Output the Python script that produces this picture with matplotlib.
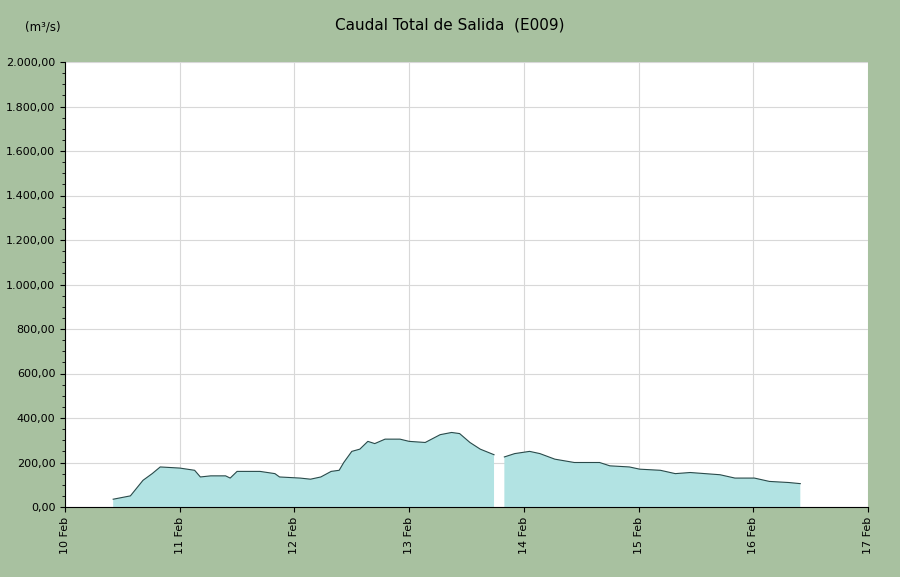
import numpy as np
import matplotlib.pyplot as plt
from matplotlib.ticker import FuncFormatter, MultipleLocator

# pixel-read positions (day of Feb, fractional) and flow (m3/s); NaN marks the gap
days = [10.42, 10.57, 10.68, 10.76, 10.83, 11.0, 11.13, 11.18, 11.27, 11.4, 11.44, 11.5,
        11.7, 11.83, 11.87, 12.05, 12.14, 12.23, 12.32, 12.39, 12.43, 12.5, 12.57,
        12.64, 12.7, 12.79, 12.92, 13.0, 13.14, 13.27, 13.37, 13.44, 13.53, 13.62,
        13.74, 13.75, 13.83, 13.92, 14.05, 14.14, 14.27, 14.44, 14.66, 14.75, 14.92,
        15.01, 15.19, 15.32, 15.45, 15.71, 15.84, 16.01, 16.14, 16.31, 16.41]
flow = [35, 50, 120, 150, 180, 175, 165, 135, 140, 140, 130, 160,
        160, 150, 135, 130, 125, 135, 160, 165, 200, 250, 260,
        295, 285, 305, 305, 295, 290, 325, 335, 330, 290, 260,
        235, np.nan, 225, 240, 250, 240, 215, 200, 200, 185, 180,
        170, 165, 150, 155, 145, 130, 130, 115, 110, 105]

tick_days = list(range(10, 18))
tick_labels = [f'{d} Feb' for d in tick_days]

bg = '#a8c1a0'
fig = plt.figure(figsize=(9, 5.77), dpi=100, facecolor=bg)
ax = fig.add_axes([65 / 900, 70 / 577, 803 / 900, 445 / 577])
ax.set_facecolor('white')

x = np.array(days)
y = np.array(flow, dtype=float)
ax.fill_between(x, 0, y, where=~np.isnan(y), color='#b2e3e3', linewidth=0)
ax.plot(x, y, color='#2a4a4a', linewidth=0.8)

ax.set_xlim(10, 17)
ax.set_ylim(0, 2000)
ax.set_xticks(tick_days)
ax.set_xticklabels(tick_labels, rotation=90, fontsize=8)
ax.yaxis.set_major_locator(MultipleLocator(200))
ax.yaxis.set_minor_locator(MultipleLocator(50))
ax.yaxis.set_major_formatter(FuncFormatter(
    lambda v, p: f'{v:,.2f}'.replace(',', 'X').replace('.', ',').replace('X', '.')))
ax.tick_params(axis='y', labelsize=8)
ax.grid(True, color='#d8d8d8', linewidth=0.8)
ax.set_axisbelow(True)
for s in ax.spines.values():
    s.set_visible(False)
ax.spines['left'].set_visible(True)
ax.spines['bottom'].set_visible(True)

fig.text(0.5, 0.97, 'Caudal Total de Salida  (E009)', ha='center', va='top', fontsize=11)
fig.text(25 / 900, 0.965, '(m³/s)', ha='left', va='top', fontsize=8.5)

plt.savefig('out.png', dpi=100, facecolor=bg)
plt.close()
